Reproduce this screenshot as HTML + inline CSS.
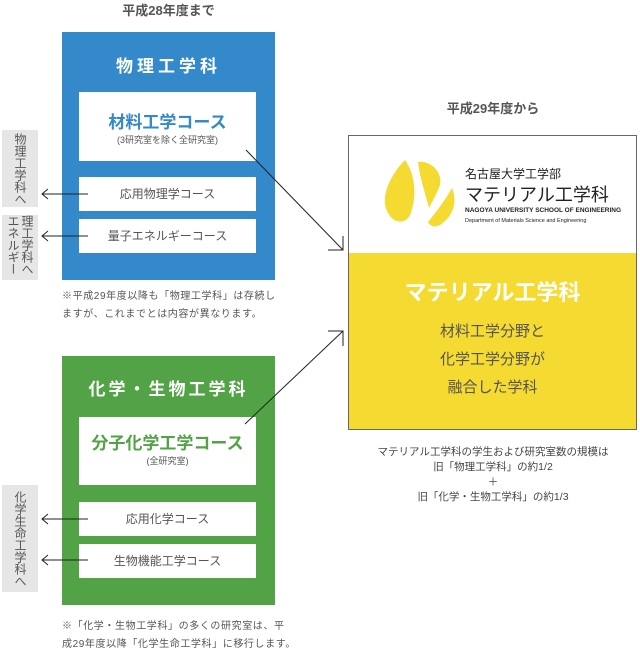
<!DOCTYPE html>
<html><head><meta charset="utf-8"><style>
body{margin:0;width:640px;height:647px;position:relative;background:#fff;font-family:"Liberation Sans","Noto Sans CJK JP",sans-serif;color:#555;overflow:hidden}
.a{position:absolute}
.c{text-align:center}
.w{background:#fff}
.g{background:#e6e6e6;font-size:12px;color:#555;writing-mode:vertical-rl;line-height:14px;display:flex;align-items:center;justify-content:center}
.n{font-size:10px;line-height:18px;letter-spacing:0.6px;white-space:nowrap}
</style></head><body>
<div class="a c" style="left:62px;top:0;width:213px;font-size:13px;font-weight:bold;color:#555">平成28年度まで</div>
<div class="a" style="left:62px;top:32px;width:213px;height:248px;background:#3389c9"></div>
<div class="a c" style="left:62px;top:52px;width:213px;font-size:17px;font-weight:bold;color:#fff;letter-spacing:4px">物理工学科</div>
<div class="a w c" style="left:79px;top:92px;width:177px;height:69px">
<div style="margin-top:16px;font-size:17px;font-weight:bold;color:#3389c9">材料工学コース</div>
<div style="font-size:9px;color:#555">(3研究室を除く全研究室)</div></div>
<div class="a w c" style="left:79px;top:177px;width:177px;height:34px;line-height:34px;font-size:12px">応用物理学コース</div>
<div class="a w c" style="left:79px;top:219px;width:177px;height:34px;line-height:34px;font-size:12px">量子エネルギーコース</div>
<div class="a g" style="left:2px;top:130px;width:36px;height:77px">物理工学科へ</div>
<div class="a g" style="left:2px;top:215px;width:36px;height:65px">理工学科へ エネルギー</div>
<div class="a n" style="left:62px;top:288px">※平成29年度以降も「物理工学科」は存続し<br>ますが、これまでとは内容が異なります。</div>

<div class="a" style="left:62px;top:356px;width:213px;height:249px;background:#52a345"></div>
<div class="a c" style="left:62px;top:375px;width:213px;font-size:17px;font-weight:bold;color:#fff;letter-spacing:3px">化学・生物工学科</div>
<div class="a w c" style="left:79px;top:417px;width:177px;height:68px">
<div style="margin-top:12px;font-size:17px;font-weight:bold;color:#52a345">分子化学工学コース</div>
<div style="font-size:9px">(全研究室)</div></div>
<div class="a w c" style="left:79px;top:502px;width:177px;height:34px;line-height:34px;font-size:12px">応用化学コース</div>
<div class="a w c" style="left:79px;top:544px;width:177px;height:34px;line-height:34px;font-size:12px">生物機能工学コース</div>
<div class="a g" style="left:2px;top:485px;width:36px;height:107px">化学生命工学科へ</div>
<div class="a n" style="left:62px;top:618px">※「化学・生物工学科」の多くの研究室は、平<br>成29年度以降「化学生命工学科」に移行します。</div>

<div class="a c" style="left:348px;top:98px;width:290px;font-size:13px;font-weight:bold">平成29年度から</div>
<div class="a" style="left:348px;top:135px;width:289px;height:295px;border:1px solid #666;box-sizing:border-box;background:#fff"></div>
<div class="a" style="left:349px;top:253px;width:287px;height:176px;background:#f4da31"></div>
<svg class="a" style="left:0;top:0" width="640" height="647">
<path d="M385 205 C383 188 395 170 405 160 C414 172 418 195 410 215 C405 225 390 225 385 205Z" fill="#f4da31"/>
<path d="M418 162 C430 160 443 172 440 185 C436 195 432 202 429 208 C426 195 420 180 418 162Z" fill="#f4da31"/>
<path d="M428 222 C436 212 444 202 452 188 C457 200 455 215 440 225 C434 228 430 226 428 222Z" fill="#f4da31"/>
<g stroke="#222" stroke-width="1" fill="none">
<line x1="88" y1="194" x2="42" y2="194"/><polyline points="48,189 42,194 48,199"/>
<line x1="88" y1="236" x2="42" y2="236"/><polyline points="48,231 42,236 48,241"/>
<line x1="88" y1="519" x2="42" y2="519"/><polyline points="48,514 42,519 48,524"/>
<line x1="88" y1="560" x2="42" y2="560"/><polyline points="48,555 42,560 48,565"/>
<line x1="246" y1="150" x2="343" y2="250"/><polyline points="328,250 343,250 343,236"/>
<line x1="245" y1="424" x2="343" y2="331"/><polyline points="328,331 343,331 343,346"/>
</g></svg>
<div class="a" style="left:465px;top:165px;font-size:12px;color:#222">名古屋大学工学部</div>
<div class="a" style="left:465px;top:181px;font-size:18px;color:#222">マテリアル工学科</div>
<div class="a" style="left:465px;top:207px;font-size:6.5px;color:#222;font-weight:bold">NAGOYA UNIVERSITY SCHOOL OF ENGINEERING</div>
<div class="a" style="left:465px;top:218px;font-size:5.5px;color:#222">Department of Materials Science and Engineering</div>
<div class="a c" style="left:349px;top:275px;width:287px;font-size:22px;font-weight:bold;color:#fff">マテリアル工学科</div>
<div class="a c" style="left:349px;top:318px;width:287px;font-size:15px;line-height:28px;color:#555">材料工学分野と<br>化学工学分野が<br>融合した学科</div>
<div class="a c" style="left:348px;top:445px;width:290px;font-size:10.5px;line-height:15px;color:#444">マテリアル工学科の学生および研究室数の規模は<br>旧「物理工学科」の約1/2<br>＋<br>旧「化学・生物工学科」の約1/3</div>
</body></html>
